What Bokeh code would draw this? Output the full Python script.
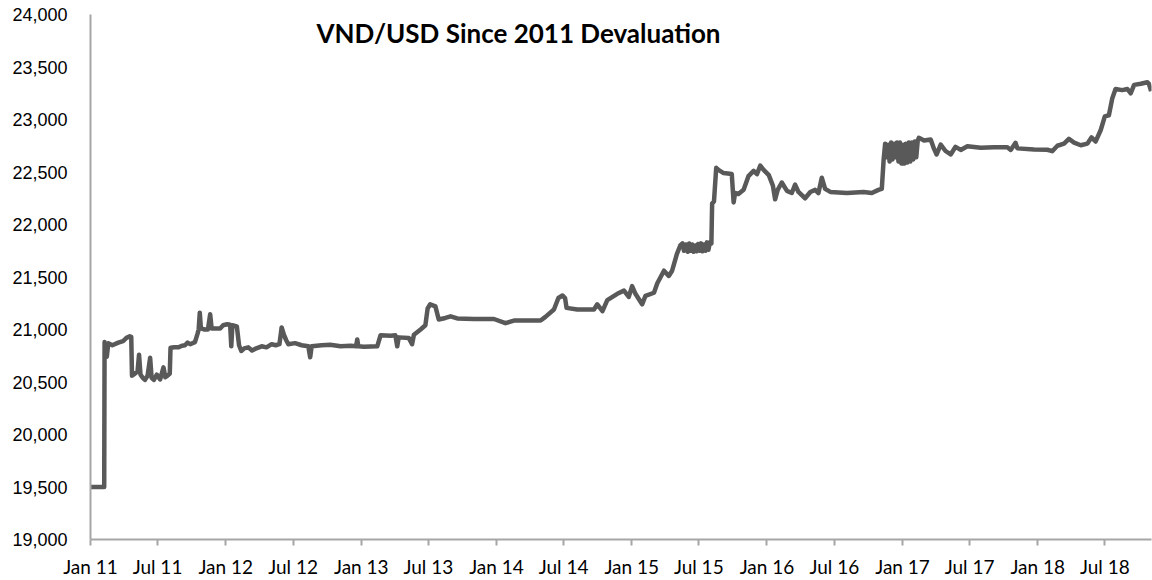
import pandas as pd
from bokeh.plotting import figure
from bokeh.models import (Range1d, FixedTicker, NumeralTickFormatter, DatetimeTickFormatter,
                          Label, ColumnDataSource)
from bokeh.embed import file_html
from bokeh.resources import INLINE

title_text = "VND/USD Since 2011 Devaluation"

dates = [
    "2011-01-01", "2011-02-07", "2011-02-08", "2011-02-14", "2011-02-18", "2011-03-01", "2011-03-17",
    "2011-03-30", "2011-04-08", "2011-04-17", "2011-04-21", "2011-04-23", "2011-05-01", "2011-05-08",
    "2011-05-12", "2011-05-16", "2011-05-22", "2011-05-28", "2011-06-04", "2011-06-11", "2011-06-15",
    "2011-06-21", "2011-06-29", "2011-07-08", "2011-07-17", "2011-07-22", "2011-07-28", "2011-08-03",
    "2011-08-05", "2011-08-15", "2011-08-26", "2011-09-05", "2011-09-13", "2011-09-20", "2011-09-27",
    "2011-10-10", "2011-10-17", "2011-10-20", "2011-10-23", "2011-10-26", "2011-11-05", "2011-11-14",
    "2011-11-20", "2011-11-24", "2011-12-05", "2011-12-17", "2011-12-25",
    "2012-01-05", "2012-01-13", "2012-01-16", "2012-01-19", "2012-01-31", "2012-02-06", "2012-02-12",
    "2012-02-20", "2012-03-02", "2012-03-12", "2012-03-20", "2012-04-07", "2012-04-20", "2012-05-04",
    "2012-05-15", "2012-05-25", "2012-05-31", "2012-06-06", "2012-06-12", "2012-06-18", "2012-07-06",
    "2012-07-24", "2012-08-11", "2012-08-16", "2012-08-20", "2012-09-16", "2012-10-09", "2012-11-06",
    "2012-12-03", "2012-12-18", "2012-12-21", "2012-12-24",
    "2013-01-08", "2013-02-13", "2013-02-22", "2013-03-21", "2013-04-03", "2013-04-08", "2013-04-12",
    "2013-05-09", "2013-05-18", "2013-05-23", "2013-06-10", "2013-06-23", "2013-06-29", "2013-07-06",
    "2013-07-20", "2013-07-29", "2013-08-16", "2013-08-30", "2013-09-17", "2013-11-01", "2013-12-25",
    "2014-01-25", "2014-02-17", "2014-04-30", "2014-05-13", "2014-06-05", "2014-06-17", "2014-06-28",
    "2014-07-05", "2014-07-09", "2014-08-07", "2014-09-21", "2014-09-30", "2014-10-14", "2014-10-27",
    "2014-11-23", "2014-12-11", "2014-12-24",
    "2015-01-02", "2015-01-11", "2015-01-29", "2015-02-07", "2015-03-02", "2015-03-11", "2015-03-29",
    "2015-04-11", "2015-04-20", "2015-05-03", "2015-05-12", "2015-05-18", "2015-05-22", "2015-05-27",
    "2015-06-01", "2015-06-05", "2015-06-09", "2015-06-13", "2015-06-17", "2015-06-21", "2015-06-25",
    "2015-06-29", "2015-07-03", "2015-07-07", "2015-07-11", "2015-07-15", "2015-07-19", "2015-07-23",
    "2015-07-27", "2015-07-31", "2015-08-04", "2015-08-06", "2015-08-11", "2015-08-17", "2015-08-23",
    "2015-09-06", "2015-09-28", "2015-10-03", "2015-10-07", "2015-10-16", "2015-10-30", "2015-11-12",
    "2015-11-26", "2015-12-05", "2015-12-14", "2015-12-23",
    "2016-01-06", "2016-01-17", "2016-01-23", "2016-01-30", "2016-02-10", "2016-02-24", "2016-03-08",
    "2016-03-17", "2016-03-26", "2016-04-13", "2016-04-27", "2016-05-10", "2016-05-19", "2016-05-28",
    "2016-06-06", "2016-06-20", "2016-08-04", "2016-09-18", "2016-10-10", "2016-10-28", "2016-11-06",
    "2016-11-11", "2016-11-15", "2016-11-19", "2016-11-23", "2016-11-27", "2016-12-01", "2016-12-05",
    "2016-12-09", "2016-12-13", "2016-12-17", "2016-12-21", "2016-12-25", "2016-12-29",
    "2017-01-02", "2017-01-06", "2017-01-10", "2017-01-14", "2017-01-18", "2017-01-22", "2017-01-26",
    "2017-01-30", "2017-02-03", "2017-02-07", "2017-02-11", "2017-02-14", "2017-02-28", "2017-03-18",
    "2017-03-27", "2017-04-03", "2017-04-14", "2017-04-27", "2017-05-11", "2017-05-24", "2017-06-07",
    "2017-06-25", "2017-07-31", "2017-09-05", "2017-10-11", "2017-10-20", "2017-11-02", "2017-11-07",
    "2017-12-22",
    "2018-01-27", "2018-02-09", "2018-02-23", "2018-03-13", "2018-03-26", "2018-04-09", "2018-04-27",
    "2018-05-15", "2018-05-26", "2018-06-06", "2018-06-20", "2018-07-01", "2018-07-12", "2018-07-21",
    "2018-07-30", "2018-08-17", "2018-08-31", "2018-09-09", "2018-09-18", "2018-10-06", "2018-10-24",
    "2018-10-28", "2018-11-03",
]

vnd_usd = [
    19500, 19500, 20880, 20740, 20870, 20850, 20875,
    20890, 20920, 20935, 20930, 20560, 20580, 20600,
    20760, 20570, 20540, 20520, 20560, 20730, 20540,
    20520, 20570, 20525, 20640, 20545, 20560, 20580,
    20826, 20830, 20830, 20845, 20850, 20875, 20860,
    20880, 20960, 21000, 21160, 21010, 21000, 21000,
    21145, 21010, 21010, 21010, 21040,
    21050, 21045, 20840, 21040, 21030, 20850, 20795,
    20820, 20830, 20800, 20815, 20840, 20830, 20860,
    20850, 20860, 21020, 20950, 20900, 20860, 20870,
    20850, 20840, 20735, 20840, 20850, 20855, 20840,
    20845, 20840, 20905, 20840,
    20835, 20840, 20945, 20940, 20945, 20840, 20925,
    20920, 20860, 20950, 21000, 21040, 21200, 21240,
    21220, 21095, 21110, 21125, 21105, 21100, 21100,
    21060, 21085, 21085, 21120, 21190, 21300, 21324,
    21300, 21206, 21190, 21190, 21240, 21175, 21280,
    21340, 21370, 21310,
    21413, 21340, 21240, 21320, 21350, 21440, 21560,
    21510, 21560, 21720, 21800, 21820, 21750, 21810,
    21740, 21820, 21750, 21810, 21740, 21800, 21745,
    21815, 21750, 21820, 21745, 21810, 21750, 21830,
    21760, 21830, 21820, 22200, 22220, 22540, 22520,
    22490, 22480, 22210, 22300, 22290, 22330, 22460,
    22510, 22480, 22560, 22520,
    22470, 22370, 22240, 22330, 22400, 22320, 22300,
    22380, 22310, 22250, 22310, 22330, 22300, 22445,
    22340, 22310, 22300, 22310, 22300, 22330, 22340,
    22620, 22770, 22640, 22760, 22600, 22780, 22620,
    22770, 22640, 22780, 22600, 22780, 22580,
    22760, 22580, 22770, 22590, 22780, 22600, 22780,
    22620, 22790, 22640, 22800, 22826, 22800, 22810,
    22720, 22667, 22760, 22700, 22667, 22740, 22710,
    22745, 22730, 22735, 22735, 22710, 22778, 22725,
    22715,
    22712, 22698, 22750, 22770, 22815, 22780, 22755,
    22770, 22830, 22790, 22900, 23030, 23040, 23200,
    23290, 23280, 23290, 23250, 23330, 23340, 23355,
    23340, 23270,
]

tick_dates = ["2011-01-01", "2011-07-01", "2012-01-01", "2012-07-01", "2013-01-01", "2013-07-01",
              "2014-01-01", "2014-07-01", "2015-01-01", "2015-07-01", "2016-01-01", "2016-07-01",
              "2017-01-01", "2017-07-01", "2018-01-01", "2018-07-01"]
tick_labels = ["Jan 11", "Jul 11", "Jan 12", "Jul 12", "Jan 13", "Jul 13", "Jan 14", "Jul 14",
               "Jan 15", "Jul 15", "Jan 16", "Jul 16", "Jan 17", "Jul 17", "Jan 18", "Jul 18"]
y_ticks = [19000, 19500, 20000, 20500, 21000, 21500, 22000, 22500, 23000, 23500, 24000]

x = pd.to_datetime(dates)
src = ColumnDataSource(dict(x=x, y=vnd_usd))

p = figure(width=1152, height=580, x_axis_type="datetime", output_backend="svg",
           toolbar_location=None,
           x_range=Range1d(pd.Timestamp("2011-01-01"), pd.Timestamp("2018-11-04")),
           y_range=Range1d(19000, 24000),
           min_border_left=90, min_border_top=14, min_border_bottom=40, min_border_right=1)
p.outline_line_color = None
p.xgrid.visible = False
p.ygrid.visible = False
p.background_fill_color = "white"
p.border_fill_color = "white"

p.line("x", "y", source=src, line_color="#595959", line_width=4.5, line_join="round")

axis_color = "#a6a6a6"
tick_ms = [pd.Timestamp(d).value / 1e6 for d in tick_dates]
p.xaxis.ticker = FixedTicker(ticks=tick_ms)
p.xaxis.formatter = DatetimeTickFormatter(months="%b %y", years="%b %y", days="%b %y")
p.xaxis.major_label_overrides = {t: l for t, l in zip(tick_ms, tick_labels)}
p.xaxis.minor_tick_line_color = None
p.xaxis.major_tick_in = 0
p.xaxis.major_tick_out = 6
p.xaxis.axis_line_color = axis_color
p.xaxis.axis_line_width = 2
p.xaxis.major_tick_line_color = axis_color
p.xaxis.major_tick_line_width = 2
p.xaxis.major_label_text_font = "Lato"
p.xaxis.major_label_text_font_size = "19px"
p.xaxis.major_label_text_color = "black"
p.xaxis.major_label_standoff = 9

p.yaxis.ticker = FixedTicker(ticks=y_ticks)
p.yaxis.formatter = NumeralTickFormatter(format="0,0")
p.yaxis.minor_tick_line_color = None
p.yaxis.major_tick_in = 0
p.yaxis.major_tick_out = 0
p.yaxis.major_tick_line_color = None
p.yaxis.axis_line_color = axis_color
p.yaxis.axis_line_width = 2
p.yaxis.major_label_text_font = "Liberation Sans"
p.yaxis.major_label_text_font_size = "18px"
p.yaxis.major_label_text_color = "black"
p.yaxis.major_label_standoff = 23

p.add_layout(Label(x=428, y=507, x_units="screen", y_units="screen", text=title_text,
                   text_align="center", text_baseline="alphabetic", text_font="Lato",
                   text_font_style="bold", text_font_size="26px", text_color="black"))

open("out.html", "w").write(file_html(p, INLINE))
